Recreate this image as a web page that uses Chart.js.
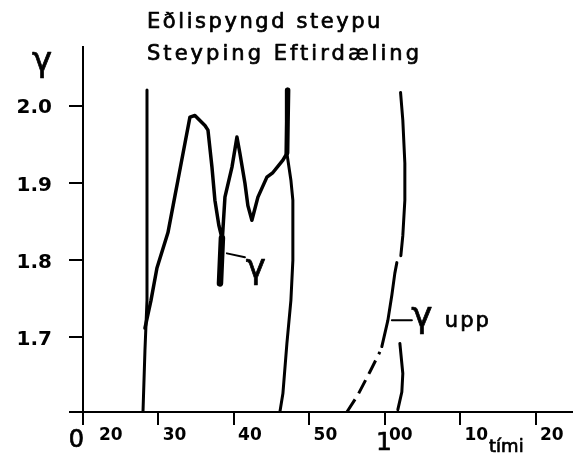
<!DOCTYPE html>
<html>
<head>
<meta charset="utf-8">
<script src="https://cdn.jsdelivr.net/npm/chart.js@4.4.1/dist/chart.umd.min.js"></script>
<style>
  body { margin: 0; background: #fff; }
  canvas { display: block; }
</style>
</head>
<body>
<canvas id="chart" width="581" height="456"></canvas>
<script>
// tími in minutes after 0:00, γ
const titleLines = ['Eðlispyngd steypu', 'Steyping Eftirdæling'];
const xTicks = [20, 30, 40, 50, 60, 70, 80];
const xTickLabels = ['\u2007\u200720', '30', '40', '50', '00', '10', '20'];
const yTicks = [1.7, 1.8, 1.9, 2.0];

// gamma during casting
const gammaTime = [28.21, 29.01, 29.80, 31.26, 32.19, 32.58, 33.51, 34.17, 34.83, 36.16, 36.56, 37.09, 37.48, 38.01, 38.41, 38.15, 38.41, 38.81, 39.74, 40.40, 40.79, 41.46, 41.85, 42.38, 43.18, 44.37, 45.17, 46.49, 47.02];
const gammaVal  = [1.712, 1.748, 1.790, 1.836, 1.884, 1.904, 1.952, 1.986, 1.988, 1.975, 1.969, 1.921, 1.878, 1.845, 1.829, 1.770, 1.819, 1.882, 1.921, 1.960, 1.939, 1.900, 1.871, 1.852, 1.882, 1.908, 1.914, 1.930, 1.939];
// heavy stroke where the pen went back over
const blobTime = [38.41, 38.28, 38.15];
const blobVal  = [1.829, 1.800, 1.770];

// start of casting
const startTime = [28.48, 28.48, 28.21, 27.95];
const startVal  = [2.021, 1.748, 1.683, 1.603];

// end of casting
const endTime = [47.15, 47.02, 47.55, 47.81, 47.81, 47.55, 47.02, 46.49, 46.09];
const endVal  = [2.021, 1.939, 1.904, 1.878, 1.800, 1.748, 1.692, 1.627, 1.603];
const endTopTime = [47.15, 47.08, 47.02];
const endTopVal  = [2.021, 1.980, 1.939];

// eftirdæling
const afterTime = [62.08, 62.38, 62.65, 62.65, 62.38, 62.12];
const afterVal  = [2.018, 1.982, 1.926, 1.878, 1.832, 1.806];
const uppDashTime = [54.97, 56.42, 58.01, 59.34];
const uppDashVal  = [1.603, 1.625, 1.655, 1.681];
const uppTime = [59.60, 60.40, 60.93, 61.32, 61.59];
const uppVal  = [1.688, 1.722, 1.755, 1.783, 1.797];
const lowTime = [61.99, 62.38, 62.25, 61.72];
const lowVal  = [1.692, 1.653, 1.629, 1.606];

const X_MIN = 20, X_MAX = 84.8, Y_MIN = 1.603, Y_MAX = 2.077;
const X_TICK_LEN = 13, Y_TICK_LEN = 14;

function pts(xs, ys) {
  return xs.map((v, i) => ({ x: v, y: ys[i] }));
}
function pen(xs, ys, w, dash) {
  return {
    data: pts(xs, ys),
    borderColor: '#000',
    borderWidth: w,
    borderDash: dash || [],
    borderCapStyle: dash ? 'butt' : 'round',
    borderJoinStyle: 'round',
    pointRadius: 0,
    tension: 0,
    fill: false
  };
}

// hand lettering is a bit heavier than the font, so stroke it too
function ink(ctx, text, px, py) {
  ctx.fillText(text, px, py);
  ctx.strokeText(text, px, py);
}
// stretch a line of text to the width it has on the sheet
function spread(ctx, text, px, py, width) {
  ctx.letterSpacing = '0px';
  const w = ctx.measureText(text).width;
  ctx.letterSpacing = ((width - w) / text.length) + 'px';
  ink(ctx, text, px, py);
  ctx.letterSpacing = '0px';
}

// outside tick marks, one per scale tick
const tickMarks = {
  id: 'tickMarks',
  afterDraw(chart) {
    const ctx = chart.ctx;
    const x = chart.scales.x, y = chart.scales.y;
    const area = chart.chartArea;
    ctx.save();
    ctx.strokeStyle = '#000';
    ctx.lineWidth = 2;
    ctx.lineCap = 'butt';
    ctx.beginPath();
    y.ticks.forEach(t => {
      const py = Math.round(y.getPixelForValue(t.value));
      ctx.moveTo(area.left - Y_TICK_LEN, py);
      ctx.lineTo(area.left, py);
    });
    x.ticks.forEach(t => {
      const px = Math.round(x.getPixelForValue(t.value));
      ctx.moveTo(px, area.bottom);
      ctx.lineTo(px, area.bottom + X_TICK_LEN);
    });
    ctx.stroke();
    ctx.restore();
  }
};

// text written on the sheet next to the curves
const notesPlugin = {
  id: 'notes',
  afterDraw(chart) {
    const ctx = chart.ctx;
    const x = chart.scales.x, y = chart.scales.y;
    ctx.save();
    ctx.fillStyle = '#000';
    ctx.strokeStyle = '#000';
    ctx.lineCap = 'round';
    ctx.lineJoin = 'round';
    ctx.lineWidth = 0.7;

    ctx.textAlign = 'left';
    ctx.textBaseline = 'alphabetic';
    ctx.font = '21px "DejaVu Sans"';
    spread(ctx, titleLines[0], 147, 28, 236);
    spread(ctx, titleLines[1], 147, 60, 275);

    // axis symbol
    ctx.textAlign = 'center';
    ctx.font = '34px "DejaVu Sans"';
    ink(ctx, 'γ', 42, 71);

    // -γ pointer
    ctx.font = '34px "DejaVu Sans"';
    ink(ctx, 'γ', x.getPixelForValue(42.91), y.getPixelForValue(1.777));
    ctx.lineWidth = 2;
    ctx.beginPath();
    ctx.moveTo(x.getPixelForValue(39.07), y.getPixelForValue(1.809));
    ctx.lineTo(x.getPixelForValue(41.46), y.getPixelForValue(1.804));
    ctx.stroke();

    // -γ upp pointer
    ctx.beginPath();
    ctx.moveTo(x.getPixelForValue(60.93), y.getPixelForValue(1.722));
    ctx.lineTo(x.getPixelForValue(63.58), y.getPixelForValue(1.722));
    ctx.stroke();
    ctx.lineWidth = 0.7;
    ctx.font = '36px "DejaVu Sans"';
    ink(ctx, 'γ', x.getPixelForValue(64.9), y.getPixelForValue(1.714));
    ctx.textAlign = 'left';
    ctx.font = '21px "DejaVu Sans"';
    ctx.letterSpacing = '2px';
    ink(ctx, 'upp', x.getPixelForValue(67.95), y.getPixelForValue(1.714));
    ctx.letterSpacing = '0px';

    // hour digits under the minute ticks
    ctx.textAlign = 'center';
    ctx.font = '24px "DejaVu Sans"';
    ink(ctx, '0', x.getPixelForValue(20) - 6.5, 447);
    ctx.font = '25px "DejaVu Sans"';
    ink(ctx, '1', x.getPixelForValue(60) - 1, 450);

    ctx.font = '18px "DejaVu Sans"';
    ink(ctx, 'tími', x.getPixelForValue(76.1), 452);
    ctx.restore();
  }
};

new Chart(document.getElementById('chart'), {
  type: 'line',
  data: {
    datasets: [
      pen(startTime, startVal, 3),
      pen(gammaTime, gammaVal, 3.5),
      pen(blobTime, blobVal, 6.5),
      pen(endTime, endVal, 3),
      pen(endTopTime, endTopVal, 5),
      pen(afterTime, afterVal, 3),
      pen(uppDashTime, uppDashVal, 3, [15, 7]),
      pen(uppTime, uppVal, 3),
      pen(lowTime, lowVal, 3)
    ]
  },
  options: {
    responsive: false,
    animation: false,
    layout: { padding: { top: 47, right: 9, left: 0, bottom: 0 } },
    plugins: {
      legend: { display: false },
      title: { display: false },
      tooltip: { enabled: false }
    },
    scales: {
      x: {
        type: 'linear',
        min: X_MIN,
        max: X_MAX,
        afterBuildTicks: s => { s.ticks = xTicks.map(v => ({ value: v })); },
        afterFit: s => { s.height = 44; },
        border: { display: true, color: '#000', width: 2 },
        grid: { drawOnChartArea: false, drawTicks: false },
        ticks: {
          color: '#000',
          font: { family: 'DejaVu Sans', size: 17, weight: 'bold' },
          padding: X_TICK_LEN,
          labelOffset: 16,
          maxRotation: 0,
          autoSkip: false,
          callback: (v) => xTickLabels[xTicks.indexOf(v)]
        }
      },
      y: {
        type: 'linear',
        min: Y_MIN,
        max: Y_MAX,
        afterBuildTicks: s => { s.ticks = [Y_MIN].concat(yTicks).map(v => ({ value: v })); },
        afterFit: s => { s.width = 83; },
        border: { display: true, color: '#000', width: 2 },
        grid: { drawOnChartArea: false, drawTicks: false },
        ticks: {
          color: '#000',
          font: { family: 'DejaVu Sans', size: 20, weight: 'bold' },
          padding: Y_TICK_LEN + 17,
          labelOffset: 2,
          autoSkip: false,
          callback: (v) => v === Y_MIN ? '' : v.toFixed(1)
        }
      }
    }
  },
  plugins: [tickMarks, notesPlugin]
});
</script>
</body>
</html>
